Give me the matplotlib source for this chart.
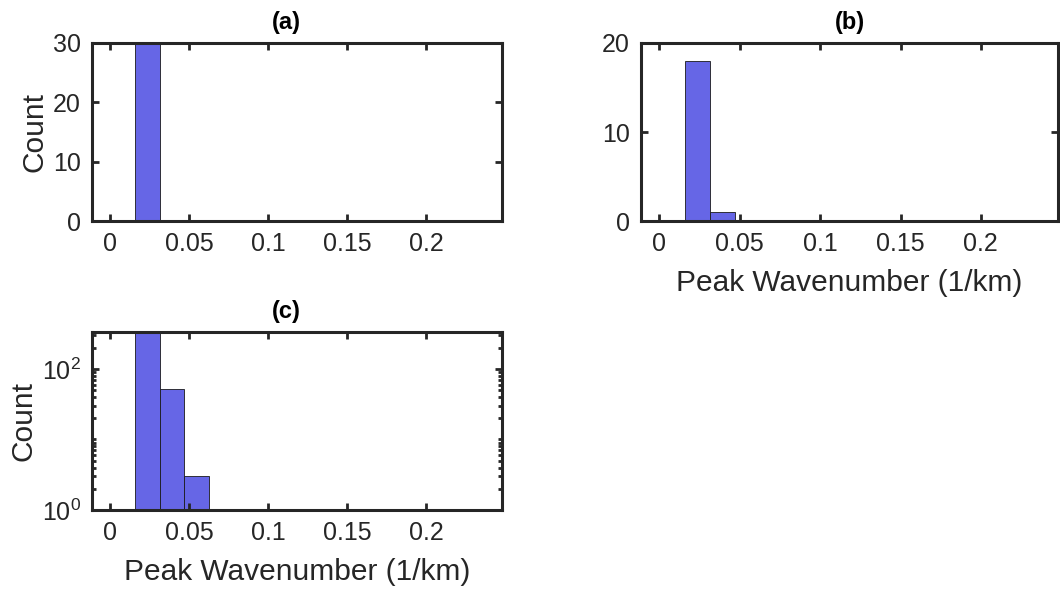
import numpy as np
import matplotlib.pyplot as plt
from matplotlib.ticker import LogLocator, NullFormatter

plt.rcParams['font.family'] = ['Liberation Sans', 'DejaVu Sans']

# histogram bins (1/km) and counts for each panel
edges_a = [0.015625, 0.03125]
counts_a = [30]
edges_b = [0.015625, 0.03125, 0.046875]
counts_b = [18, 1]
edges_c = [0.015625, 0.03125, 0.046875, 0.0625]
counts_c = [335, 52, 3]

xticks = [0, 0.05, 0.1, 0.15, 0.2]
xticklabels = ['0', '0.05', '0.1', '0.15', '0.2']

ink = '#262626'
face = '#6666e6'

fig = plt.figure(figsize=(10.6, 5.98), dpi=100)
ax_a = fig.add_axes([0.0868, 0.6304, 0.3868, 0.2977])
ax_b = fig.add_axes([0.6047, 0.6304, 0.3934, 0.2977])
ax_c = fig.add_axes([0.0868, 0.1472, 0.3868, 0.2977])


def style(ax):
    for s in ax.spines.values():
        s.set_linewidth(2.2)
        s.set_color(ink)
    ax.tick_params(which='both', direction='in', top=True, right=True,
                   colors=ink, labelsize=18, width=2.0)
    ax.tick_params(which='major', length=5, pad=8)
    ax.tick_params(which='minor', length=3)
    ax.set_xlim(-0.0115, 0.248)
    ax.set_xticks(xticks)
    ax.set_xticklabels(xticklabels)


for ax, edges, counts in [(ax_a, edges_a, counts_a),
                          (ax_b, edges_b, counts_b),
                          (ax_c, edges_c, counts_c)]:
    e = np.array(edges)
    ax.hist(e[:-1], bins=e, weights=counts, color=face,
            edgecolor='#1a1a1a', linewidth=0.6)
    style(ax)

lab = dict(fontsize=21.5, color=ink)
ttl = dict(fontsize=17, fontweight='bold', color='black', pad=10)

ax_a.set_ylim(0, 30)
ax_a.set_yticks([0, 10, 20, 30])
ax_a.set_ylabel('Count', labelpad=3, **lab)
ax_a.set_title('(a)', x=0.473, **ttl)

ax_b.set_ylim(0, 20)
ax_b.set_yticks([0, 10, 20])
ax_b.set_xlabel('Peak Wavenumber (1/km)', labelpad=9, **lab)
ax_b.set_title('(b)', **ttl)

ax_c.set_yscale('log')
ax_c.set_ylim(1, 335)
ax_c.yaxis.set_major_locator(LogLocator(base=100))
ax_c.yaxis.set_minor_locator(LogLocator(base=10, subs=np.arange(1, 10)))
ax_c.yaxis.set_minor_formatter(NullFormatter())
ax_c.set_ylabel('Count', labelpad=3, **lab)
ax_c.set_xlabel('Peak Wavenumber (1/km)', labelpad=9, **lab)
ax_c.set_title('(c)', x=0.473, **ttl)

fig.savefig('out.png', dpi=100)
